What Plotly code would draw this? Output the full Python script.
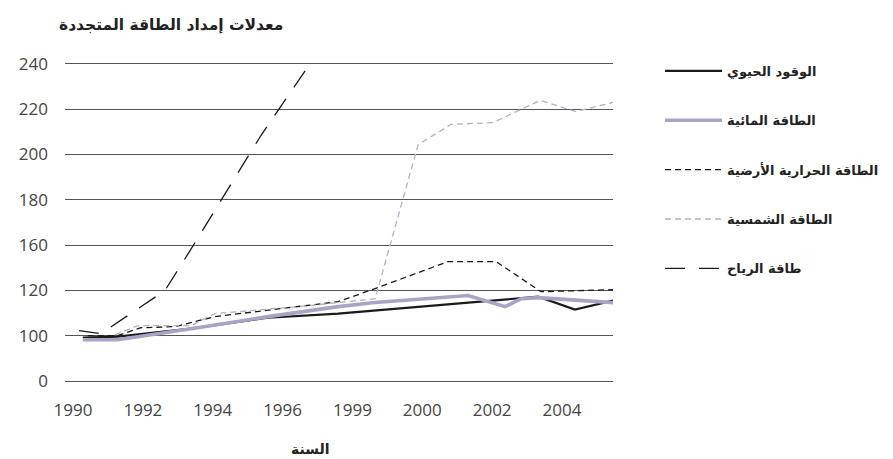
import plotly.graph_objects as go

# ---- data ----
title_text = "معدلات إمداد الطاقة المتجددة"
x_title = "السنة"

tick_years = [1990, 1992, 1994, 1996, 1998, 2000, 2002, 2004]
tick_year_labels = ["1990", "1992", "1994", "1996", "1999", "2000", "2002", "2004"]

# y axis: gridline positions and the labels printed on them
y_grid_values = [80, 100, 120, 140, 160, 180, 200, 220]
y_grid_labels = ["0", "100", "120", "160", "180", "200", "220", "240"]

biofuel_name = "الوقود الحيوي"
biofuel_x = [1990.28, 1991.28, 1993.37, 1995.58, 1997.59, 2003.32, 2004.37, 2005.46]
biofuel_y = [99.1, 99.6, 103.1, 107.9, 109.7, 117.2, 111.5, 115.5]

hydro_name = "الطاقة المائية"
hydro_x = [1990.28, 1991.28, 1993.57, 1995.58, 1997.59, 1998.65, 2001.31, 2002.37, 2002.83, 2003.32, 2005.46]
hydro_y = [98.2, 98.2, 103.5, 108.4, 112.8, 114.6, 117.7, 112.8, 116.3, 116.8, 114.6]

geo_name = "الطاقة الحرارية الأرضية"
geo_x = [1990.42, 1991.28, 1991.94, 1992.92, 1994.06, 1997.59, 1998.65, 2000.74, 2002.11, 2003.40, 2005.46]
geo_y = [100.0, 100.0, 103.5, 104.0, 108.4, 115.0, 120.8, 132.7, 132.7, 119.4, 120.3]

solar_name = "الطاقة الشمسية"
solar_x = [1991.20, 1991.86, 1993.37, 1994.06, 1996.73, 1998.65, 1999.88, 2000.82, 2002.03, 2003.37, 2004.40, 2005.46]
solar_y = [100.4, 104.4, 104.4, 109.7, 113.2, 116.3, 184.3, 193.2, 194.0, 203.8, 198.9, 202.9]

wind_name = "طاقة الرياح"
wind_x = [1990.17, 1990.80, 1992.63, 1993.35, 1995.38, 1996.67]
wind_y = [102.2, 100.9, 119.9, 137.5, 188.3, 217.4]

# ---- styling ----
BLACK = "#1a1a1a"
LAV = "#a7a4c6"
LAV_LIGHT = "#b0aecd"
AR_FONT = "DejaVu Sans"
NUM_FONT = "Open Sans"

fig = go.Figure()
series = [
    (biofuel_name, biofuel_x, biofuel_y, dict(color=BLACK, width=2.2, dash="solid")),
    (hydro_name, hydro_x, hydro_y, dict(color=LAV, width=3.6, dash="solid")),
    (geo_name, geo_x, geo_y, dict(color=BLACK, width=1.3, dash="6px,4px")),
    (solar_name, solar_x, solar_y, dict(color=LAV_LIGHT, width=1.3, dash="6px,4px")),
    (wind_name, wind_x, wind_y, dict(color=BLACK, width=1.3, dash="20px,14px")),
]
for i, (name, xs, ys, line) in enumerate(series):
    fig.add_trace(go.Scatter(x=xs, y=ys, mode="lines", name=name, line=line,
                             legendgroup=f"g{i}", hoverinfo="skip"))

fig.update_layout(
    width=893, height=459,
    margin=dict(l=57, r=288, t=50, b=81),
    paper_bgcolor="white", plot_bgcolor="white",
    showlegend=True,
    legend=dict(x=(652 - 57) / 548, xanchor="left", y=1.0066, yanchor="top",
                font=dict(family=AR_FONT, size=13, color="#222", weight="bold"),
                tracegroupgap=29.5, bgcolor="rgba(0,0,0,0)", itemwidth=57),
    xaxis=dict(range=[1989.77, 2005.46], tickvals=tick_years, ticktext=tick_year_labels,
               showgrid=False, zeroline=False, showline=False, ticks="",
               tickfont=dict(family=NUM_FONT, size=17, color="#444"),
               ticklabelstandoff=12),
    yaxis=dict(range=[77.8, 222.5], tickvals=y_grid_values, ticktext=y_grid_labels,
               showgrid=True, gridcolor="#555", gridwidth=1.2, zeroline=False,
               showline=False, ticks="",
               tickfont=dict(family=NUM_FONT, size=17, color="#444"),
               ticklabelstandoff=16),
    annotations=[
        dict(text=f"<b>{title_text}</b>", xref="paper", yref="paper",
             x=(277 - 57) / 548, y=1 + (50 - 17) / 328, xanchor="right", yanchor="middle",
             showarrow=False, font=dict(family=AR_FONT, size=15.5, color="#222")),
        dict(text=f"<b>{x_title}</b>", xref="paper", yref="paper",
             x=(302 - 57) / 548, y=(378 - 441) / 328, xanchor="center", yanchor="middle",
             showarrow=False, font=dict(family=AR_FONT, size=14, color="#222")),
    ],
)

fig.write_html("out.html")
